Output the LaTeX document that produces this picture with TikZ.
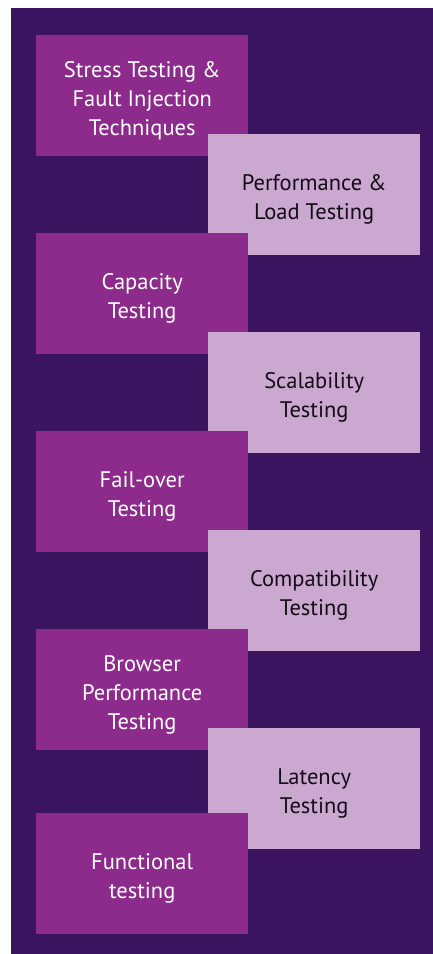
\documentclass[tikz,border=0pt]{standalone}
\usepackage{fontspec}
\setmainfont{PT Sans}
\definecolor{bgpurple}{RGB}{58,20,94}
\definecolor{darkbox}{RGB}{140,43,139}
\definecolor{lightbox}{RGB}{203,168,207}
\definecolor{lighttext}{RGB}{20,12,24}
\tikzset{
  boxbase/.style={minimum width=212pt, minimum height=121pt, inner sep=0pt, anchor=north west},
  darkstep/.style={boxbase, fill=darkbox},
  lightstep/.style={boxbase, fill=lightbox},
  lbl/.style={align=center, inner sep=0pt, font=\fontsize{22.5}{29}\selectfont},
  darklbl/.style={lbl, text=white},
  lightlbl/.style={lbl, text=lighttext},
}
\begin{document}
\begin{tikzpicture}[x=1pt,y=-1pt]
\useasboundingbox (0,0) rectangle (433,954);
\fill[bgpurple] (11,8) rectangle (433,954);
\node[darkstep] (d1) at (36,35) {};
\node[darklbl] (d1t) at ([yshift=-5pt]d1.center) {Stress Testing \&\\Fault Injection\\Techniques};
\node[lightstep] (l1) at (208,134) {};
\node[lightlbl] (l1t) at ([yshift=-5pt]l1.center) {Performance \&\\Load Testing};
\node[darkstep] (d2) at (36,233) {};
\node[darklbl] (d2t) at ([yshift=-5pt]d2.center) {Capacity\\Testing};
\node[lightstep] (l2) at (208,332) {};
\node[lightlbl] (l2t) at ([yshift=-5pt]l2.center) {Scalability\\Testing};
\node[darkstep] (d3) at (36,431) {};
\node[darklbl] (d3t) at ([yshift=-5pt]d3.center) {Fail-over\\Testing};
\node[lightstep] (l3) at (208,530) {};
\node[lightlbl] (l3t) at ([yshift=-5pt]l3.center) {Compatibility\\Testing};
\node[darkstep] (d4) at (36,629) {};
\node[darklbl] (d4t) at ([yshift=-5pt]d4.center) {Browser\\Performance\\Testing};
\node[lightstep] (l4) at (208,728) {};
\node[lightlbl] (l4t) at ([yshift=-5pt]l4.center) {Latency\\Testing};
\node[darkstep] (d5) at (36,813) {};
\node[darklbl] (d5t) at ([yshift=-5pt]d5.center) {Functional\\testing};
\end{tikzpicture}
\end{document}
